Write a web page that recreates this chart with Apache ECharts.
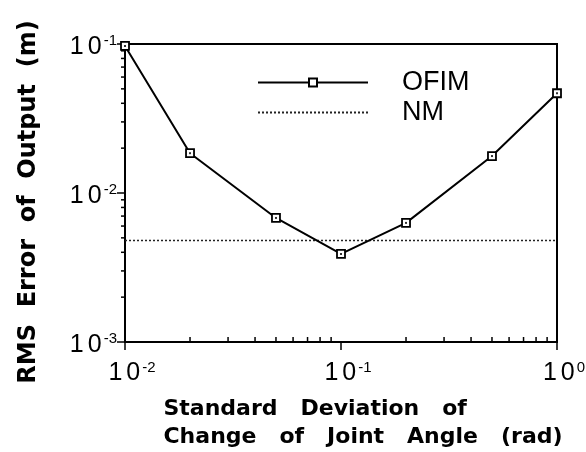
<!DOCTYPE html>
<html><head><meta charset="utf-8">
<script src="https://cdn.jsdelivr.net/npm/echarts@6/dist/echarts.min.js"></script>
<style>html,body{margin:0;padding:0;background:#fff}#c{width:586px;height:452px}</style>
</head><body><div id="c"></div>
<script>
const sigma = [0.01, 0.02, 0.05, 0.1, 0.2, 0.5, 1.0];
const ofimError = [0.097, 0.0185, 0.0068, 0.0039, 0.0063, 0.0177, 0.0467];
const nmError = 0.0048;
const xRange = [0.01, 1];
const yRange = [0.001, 0.1];
const xTickExponents = ['-2', '-1', '0'];
const yTickExponents = ['-3', '-2', '-1'];
const xMinorTicks = [0.02, 0.03, 0.04, 0.05, 0.06, 0.07, 0.08, 0.09, 0.2, 0.3, 0.4, 0.5, 0.6, 0.7, 0.8, 0.9];
const yMinorTicks = [0.002, 0.003, 0.004, 0.005, 0.006, 0.007, 0.008, 0.009, 0.02, 0.03, 0.04, 0.05, 0.06, 0.07, 0.08, 0.09];

function expLabel(list) {
  return function (v) {
    const e = Math.round(Math.log10(v));
    const lab = list.find(s => Number(s) === e);
    return '{a|1}{b|0}{s|' + (lab === undefined ? e : lab) + '}';
  };
}
const tickRich = {
  a: { fontFamily: 'Liberation Sans', fontSize: 25, color: '#000', padding: [0, 4, 0, 0], lineHeight: 26, verticalAlign: 'bottom' },
  b: { fontFamily: 'Liberation Sans', fontSize: 25, color: '#000', lineHeight: 26, verticalAlign: 'bottom' },
  s: { fontFamily: 'Liberation Sans', fontSize: 15, color: '#000', lineHeight: 15, verticalAlign: 'top', padding: [0, 0, 0, 2] }
};

const chart = echarts.init(document.getElementById('c'), null, { renderer: 'canvas' });
const tickStyle = { color: '#000', width: 1.5 };
chart.setOption({
  backgroundColor: '#fff',
  animation: false,
  grid: { left: 125, right: 29, top: 44, bottom: 110, containLabel: false, outerBoundsMode: 'none', show: true, borderColor: '#000', borderWidth: 2, backgroundColor: 'transparent' },
  legend: {
    data: [{ name: 'OFIM' }, { name: 'NM', itemStyle: { opacity: 0 } }],
    orient: 'vertical',
    left: 252, top: 64,
    itemWidth: 110, itemHeight: 10, itemGap: 3,
    textStyle: { fontFamily: 'Liberation Sans', fontSize: 27, color: '#000', lineHeight: 26, padding: [0, 0, 0, 29] },
    selectedMode: false
  },
  xAxis: {
    type: 'log', logBase: 10, min: xRange[0], max: xRange[1],
    name: '{t|Standard   Deviation   of}\n{t|Change   of   Joint   Angle   (rad)}',
    nameLocation: 'middle', nameGap: 53,
    nameTextStyle: { padding: [0, 0, 0, 44], rich: { t: { align: 'left', fontFamily: 'DejaVu Sans', fontWeight: 'bold', fontSize: 22, color: '#000', lineHeight: 28 } } },
    axisLine: { lineStyle: { color: '#000', width: 2 } },
    axisTick: { length: 8, lineStyle: tickStyle },
    splitLine: { show: false },
    minorTick: { show: false },
    axisLabel: { margin: 18, padding: [0, 0, 0, 14], formatter: expLabel(xTickExponents), rich: tickRich }
  },
  yAxis: {
    type: 'log', logBase: 10, min: yRange[0], max: yRange[1],
    name: 'RMS  Error  of  Output  (m)',
    nameLocation: 'middle', nameGap: 84, nameRotate: 90,
    nameTextStyle: { fontFamily: 'DejaVu Sans', fontWeight: 'bold', fontSize: 24, color: '#000', padding: [0, 18, 0, 0] },
    axisLine: { lineStyle: { color: '#000', width: 2 } },
    axisTick: { length: 8, lineStyle: tickStyle },
    splitLine: { show: false },
    minorTick: { show: false },
    axisLabel: { margin: 8, padding: [5, 0, 0, 0], formatter: expLabel(yTickExponents), rich: tickRich }
  },
  series: [
    {
      name: 'NM', type: 'line', symbol: 'none',
      data: [[xRange[0], nmError], [xRange[1], nmError]],
      itemStyle: { color: '#222' },
      lineStyle: { color: '#222', width: 1.5, type: [2, 2] },
      z: 2
    },
    {
      name: 'OFIM', type: 'line', symbol: 'rect', symbolSize: 8, showAllSymbol: true,
      data: sigma.map((x, i) => [x, ofimError[i]]),
      lineStyle: { color: '#000', width: 2 },
      itemStyle: { color: '#fff', borderColor: '#000', borderWidth: 1.8 },
      z: 3
    },
    {
      name: 'dots', type: 'scatter', symbol: 'rect', symbolSize: 2,
      data: sigma.map((x, i) => [x, ofimError[i]]),
      itemStyle: { color: '#000' }, silent: true, z: 4
    },
    {
      name: 'xminor', type: 'custom', coordinateSystem: 'cartesian2d', silent: true, clip: false,
      data: xMinorTicks.map(v => [v, yRange[0]]),
      encode: { x: 0, y: 1 },
      renderItem: (params, api) => {
        const p = api.coord([api.value(0), api.value(1)]);
        return { type: 'line', shape: { x1: p[0], y1: p[1], x2: p[0], y2: p[1] - 5 }, style: { stroke: '#000', lineWidth: 1.5 } };
      },
      z: 5
    },
    {
      name: 'yminor', type: 'custom', coordinateSystem: 'cartesian2d', silent: true, clip: false,
      data: yMinorTicks.map(v => [xRange[0], v]),
      encode: { x: 0, y: 1 },
      renderItem: (params, api) => {
        const p = api.coord([api.value(0), api.value(1)]);
        return { type: 'line', shape: { x1: p[0], y1: p[1], x2: p[0] - 4, y2: p[1] }, style: { stroke: '#000', lineWidth: 1.5 } };
      },
      z: 5
    }
  ]
});
</script></body></html>
